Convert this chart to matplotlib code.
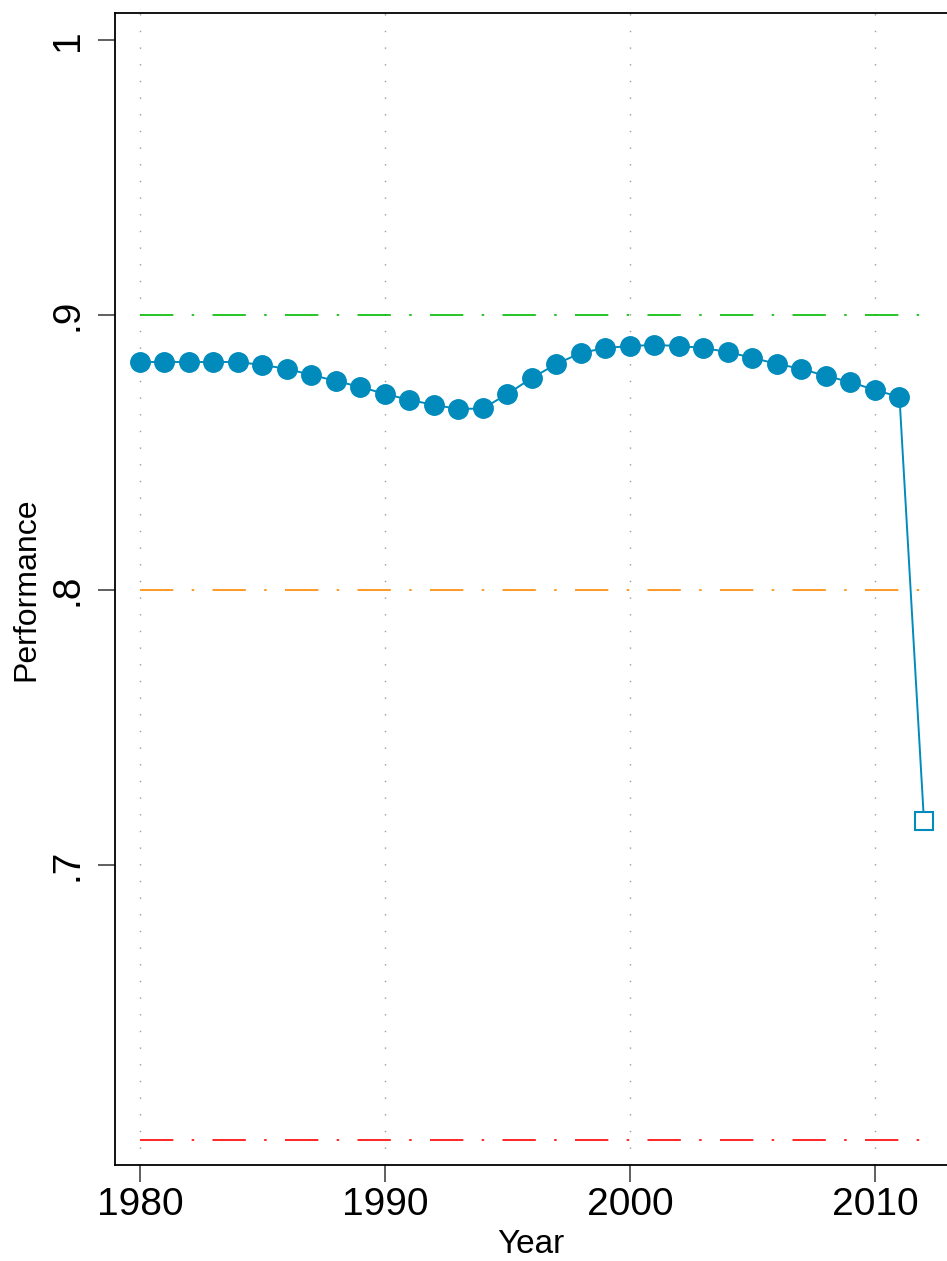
import numpy as np
import matplotlib.pyplot as plt

years = list(range(1980, 2012))
performance = [0.8829, 0.8829, 0.8829, 0.8829, 0.8829, 0.8818, 0.8804, 0.8782,
               0.8760, 0.8738, 0.8713, 0.8691, 0.8673, 0.8658, 0.8660, 0.8713,
               0.8771, 0.8822, 0.8862, 0.8880, 0.8887, 0.8891, 0.8887, 0.8880,
               0.8865, 0.8844, 0.8822, 0.8804, 0.8778, 0.8756, 0.8727, 0.8702]
last_year = 2012
last_value = 0.716

ref_levels = [0.9, 0.8, 0.6]
ref_colors = ["#00BB00", "#FF8800", "#FF0000"]

x_ticks = [1980, 1990, 2000, 2010]
y_ticks = [0.7, 0.8, 0.9, 1.0]
y_labels = [".7", ".8", ".9", "1"]

plt.rcParams["font.family"] = ["Liberation Sans", "DejaVu Sans"]
color = "#008BBC"

fig = plt.figure(figsize=(9.47, 12.61), dpi=100)
ax = fig.add_axes([115 / 947, 96 / 1261, 832 / 947, 1152 / 1261])

for xv in x_ticks:
    ax.axvline(xv, color="#999999", lw=1.0, ls=(0, (1, 11)), zorder=0)

for lvl, c in zip(ref_levels, ref_colors):
    ax.plot([years[0], last_year], [lvl, lvl], color=c, lw=1.2,
            dashes=(20, 11, 1.5, 11), zorder=1)

ax.plot(years + [last_year], performance + [last_value], color=color, lw=1.4, zorder=2)
ax.plot(years, performance, "o", color=color, ms=14, zorder=3)
ax.plot([last_year], [last_value], "s", mfc="white", mec=color, mew=1.5, ms=13, zorder=3)

ax.set_xlim(1978.98, 2012.94)
ax.set_ylim(0.5909, 1.0098)
ax.set_xticks(x_ticks)
ax.set_yticks(y_ticks)
ax.set_yticklabels(y_labels, rotation=90, va="center")
ax.tick_params(axis="both", labelsize=28, length=12, width=1.2, color="#444444", pad=4)
ax.tick_params(axis="y", pad=9)
ax.spines["right"].set_visible(False)
for s in ["left", "bottom", "top"]:
    ax.spines[s].set_linewidth(1.3)

ax.set_xlabel("Year", fontsize=24, labelpad=4)
ax.set_ylabel("Performance", fontsize=23, labelpad=6)

fig.savefig("out.png", dpi=100)
